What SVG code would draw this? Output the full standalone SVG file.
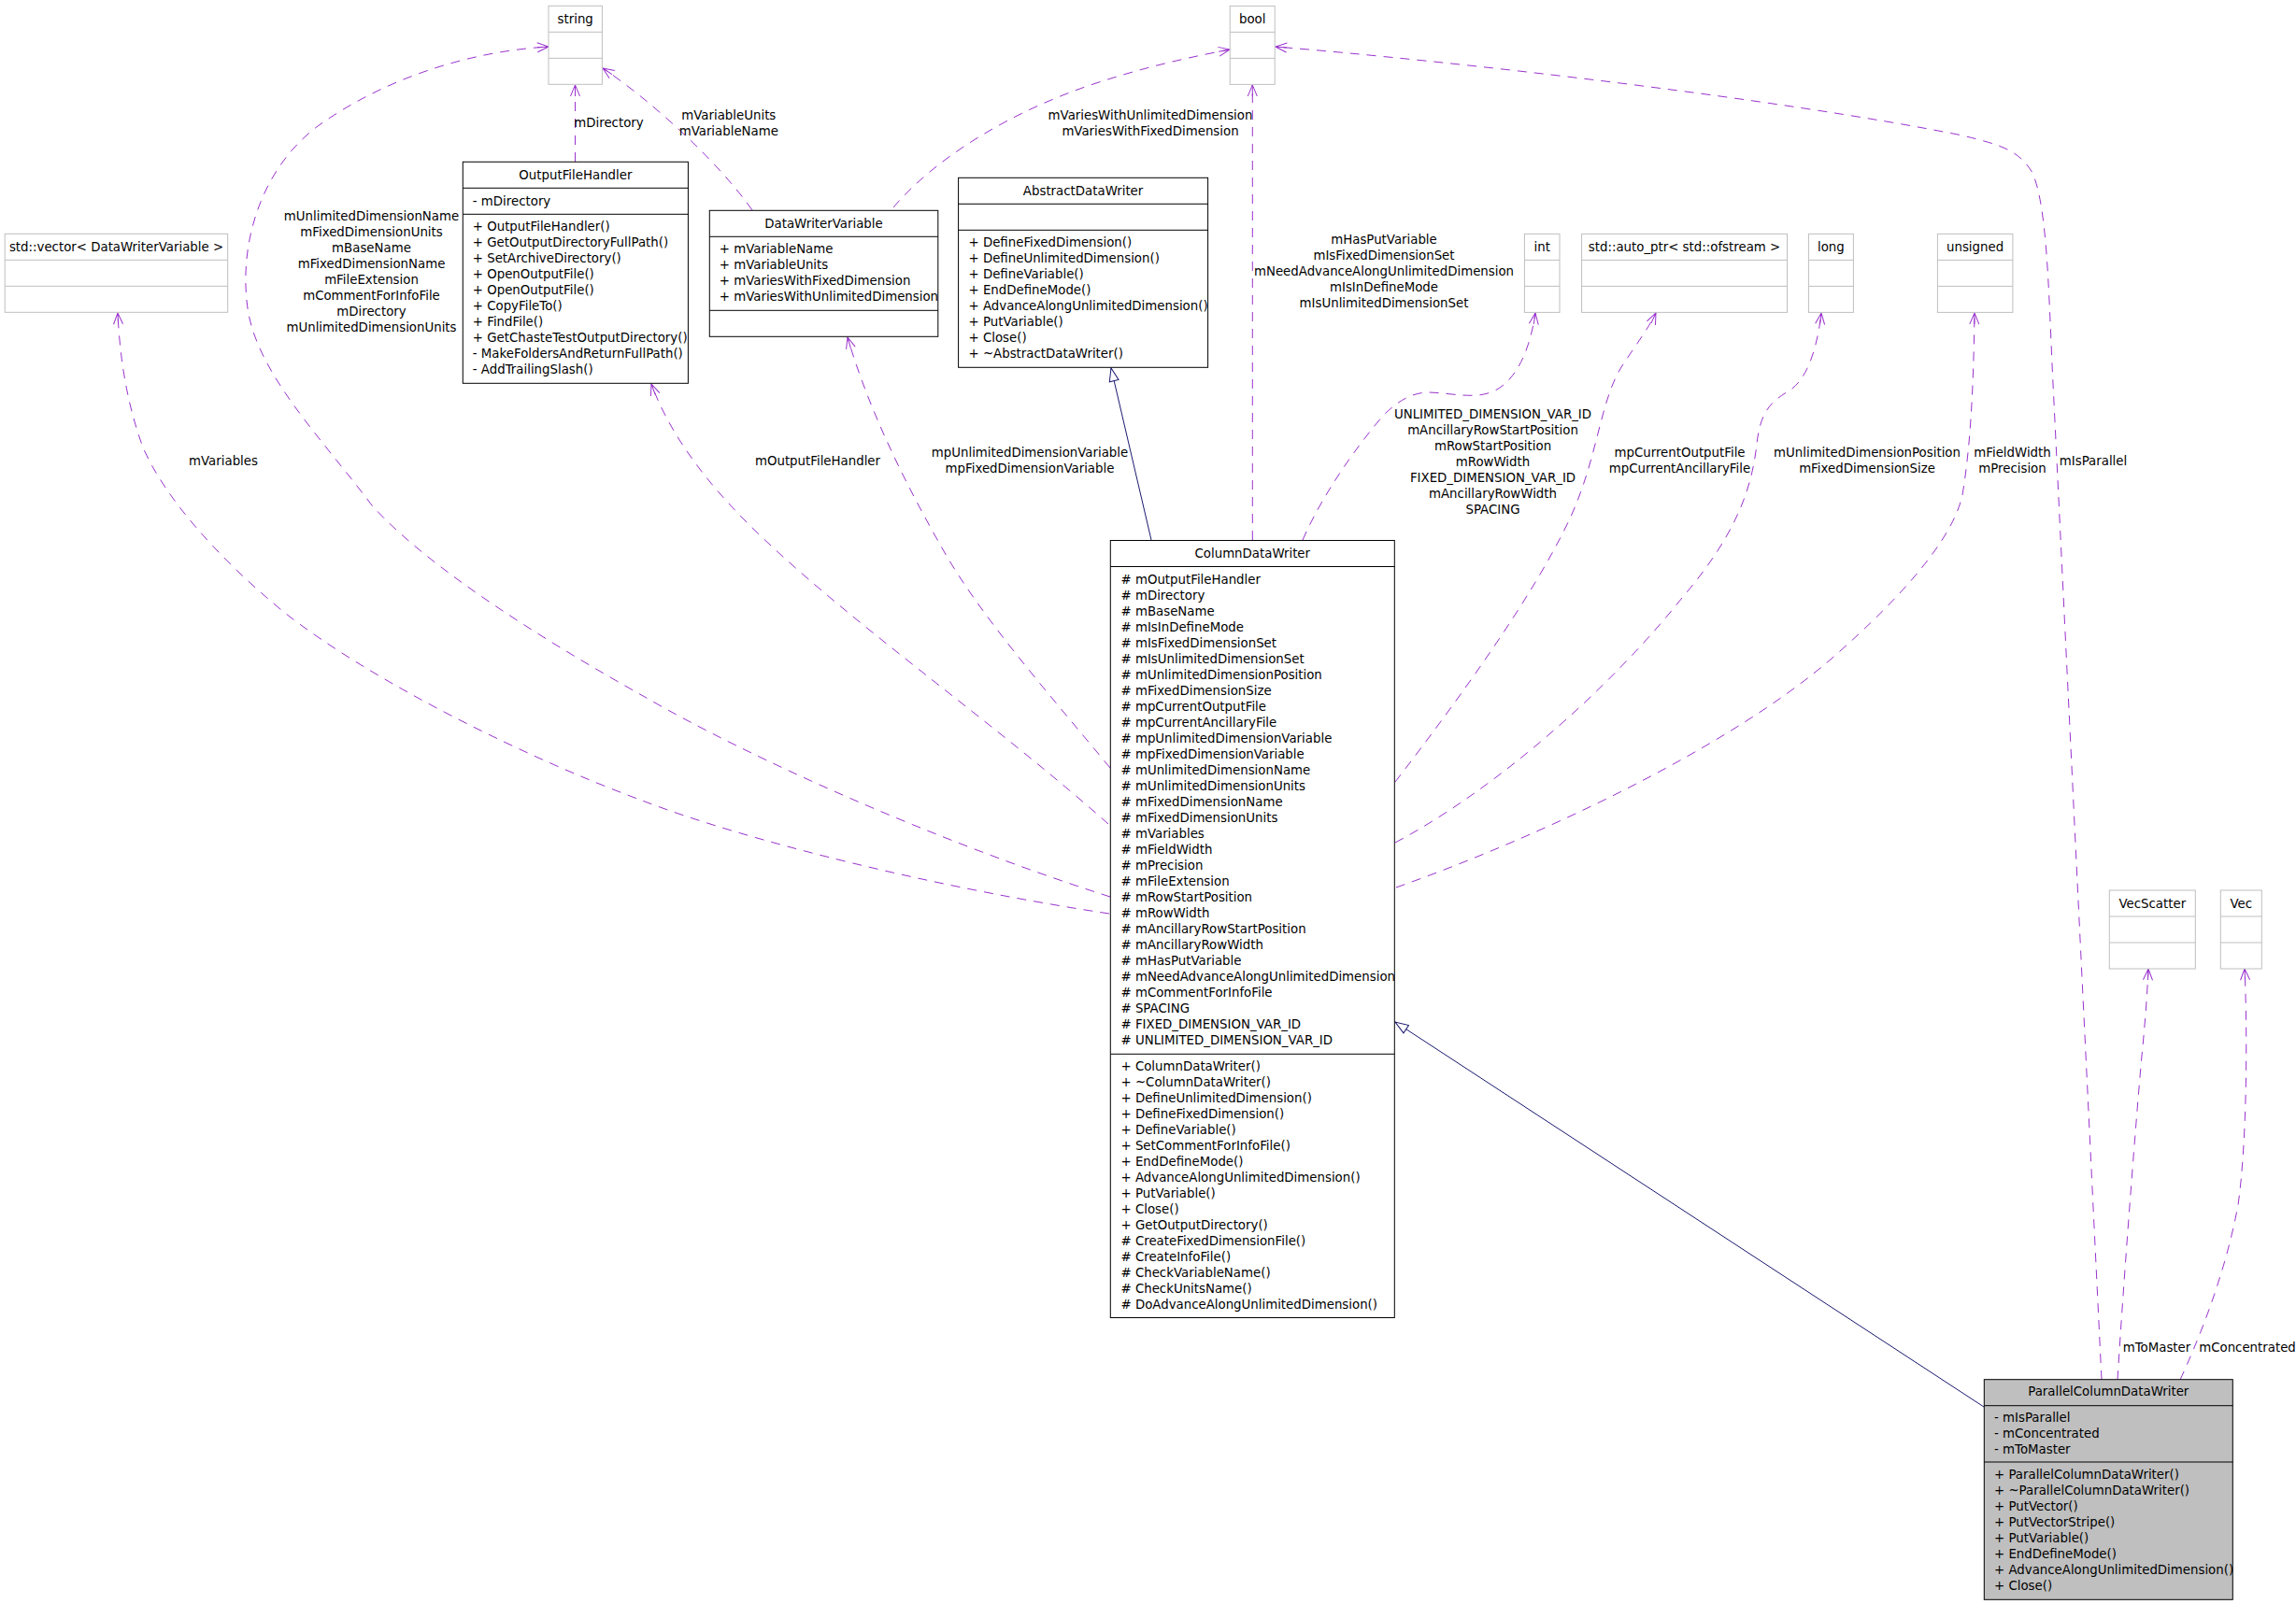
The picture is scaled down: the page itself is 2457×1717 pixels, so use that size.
<svg xmlns="http://www.w3.org/2000/svg" width="2457" height="1717" viewBox="0 0 2457 1717">
<style>
.t{font-family:"DejaVu Sans","Liberation Sans",sans-serif;font-size:13.33px;fill:#000}
.c{text-anchor:middle}
.box{fill:#fff;stroke:#000;stroke-width:1}
.boxg{fill:#bfbfbf;stroke:#000;stroke-width:1}
.ext{fill:#fff;stroke:#bfbfbf;stroke-width:1}
.sep{stroke:#000;stroke-width:1}
.sepx{stroke:#bfbfbf;stroke-width:1}
.use{fill:none;stroke:#9a32cd;stroke-width:1;stroke-dasharray:10,8;marker-end:url(#vee)}
.inh{fill:none;stroke:#191970;stroke-width:1;marker-end:url(#tri)}
</style>
<defs>
<marker id="vee" markerUnits="userSpaceOnUse" markerWidth="14" markerHeight="12" refX="12" refY="5" orient="auto" overflow="visible">
<path d="M0,0 L12,5 L0,10 M0,5 L12,5" fill="none" stroke="#9a32cd" stroke-width="1"/>
</marker>
<marker id="tri" markerUnits="userSpaceOnUse" markerWidth="16" markerHeight="12" refX="14" refY="5" orient="auto" overflow="visible">
<path d="M0,0 L14,5 L0,10 Z" fill="#fff" stroke="#191970" stroke-width="1"/>
</marker>
</defs>
<rect width="2457" height="1717" fill="#fff"/>

<g id="connectors">
<path class="use" d="M1188,960 C1000,900 800,810 690,746 C590,690 460,610 398,541 C345,470 275,400 265,330 C255,260 280,180 340,135 C410,85 500,55 587,50"/>
<path class="use" d="M1187,978 C1000,950 800,900 690,858 C560,810 400,730 306,657 C230,595 175,530 153,479 C135,430 128,380 126,335"/>
<path class="use" d="M1186,882 C1060,770 900,660 800,560 C750,510 715,460 697,411"/>
<path class="use" d="M1188,822 C1120,740 1050,660 1010,590 C970,520 930,440 907,361"/>
<path class="inh" d="M1232,578 L1189,394"/>
<path class="use" d="M1340.3,578 L1340.3,91"/>
<path class="use" d="M805,225 C770,175 700,110 645,73"/>
<path class="use" d="M956,222 C1000,170 1080,120 1170,90 C1230,70 1280,60 1316,53"/>
<path class="use" d="M615.5,173 L615.5,91"/>
<path class="use" d="M1394,578 C1415,530 1450,480 1480,445 C1500,425 1515,420 1530,420 C1555,421 1580,428 1600,418 C1625,405 1638,370 1643,335"/>
<path class="use" d="M1493,837 C1560,750 1640,640 1680,555 C1710,490 1712,430 1735,393 C1750,370 1765,350 1772,335"/>
<path class="use" d="M1493,902 C1600,845 1720,740 1800,640 C1860,570 1875,520 1880,475 C1884,440 1895,430 1915,418 C1935,405 1945,370 1949,335"/>
<path class="use" d="M1494,950 C1650,895 1850,800 1960,705 C2040,635 2090,575 2100,530 C2110,470 2112,400 2113,335"/>
<path class="use" d="M2249,1477 L2196,390 C2192,300 2190,220 2175,185 C2160,160 2140,155 2100,145 C1900,105 1550,65 1365,50"/>
<path class="use" d="M2266,1477 C2272,1380 2284,1220 2292,1130 C2296,1090 2298,1060 2299,1037"/>
<path class="use" d="M2333,1477 C2350,1440 2380,1370 2395,1290 C2405,1220 2405,1100 2402,1037"/>
<path class="inh" d="M2123,1506 L1493,1094"/>

<text class="t c" x="651.5" y="135.8">mDirectory</text>
<text class="t c" x="779.8" y="127.5">mVariableUnits</text>
<text class="t c" x="779.8" y="144.5">mVariableName</text>
<text class="t c" x="1231" y="127.5">mVariesWithUnlimitedDimension</text>
<text class="t c" x="1231" y="144.5">mVariesWithFixedDimension</text>
<text class="t c" x="397.5" y="236.1">mUnlimitedDimensionName</text>
<text class="t c" x="397.5" y="253.1">mFixedDimensionUnits</text>
<text class="t c" x="397.5" y="270.1">mBaseName</text>
<text class="t c" x="397.5" y="287.1">mFixedDimensionName</text>
<text class="t c" x="397.5" y="304.1">mFileExtension</text>
<text class="t c" x="397.5" y="321.1">mCommentForInfoFile</text>
<text class="t c" x="397.5" y="338.1">mDirectory</text>
<text class="t c" x="397.5" y="355.1">mUnlimitedDimensionUnits</text>
<text class="t c" x="239" y="498.1">mVariables</text>
<text class="t c" x="875" y="498.1">mOutputFileHandler</text>
<text class="t c" x="1102" y="489.1">mpUnlimitedDimensionVariable</text>
<text class="t c" x="1102" y="506.1">mpFixedDimensionVariable</text>
<text class="t c" x="1481" y="261.2">mHasPutVariable</text>
<text class="t c" x="1481" y="278.2">mIsFixedDimensionSet</text>
<text class="t c" x="1481" y="295.2">mNeedAdvanceAlongUnlimitedDimension</text>
<text class="t c" x="1481" y="312.2">mIsInDefineMode</text>
<text class="t c" x="1481" y="329.2">mIsUnlimitedDimensionSet</text>
<text class="t c" x="1597.5" y="447.5">UNLIMITED_DIMENSION_VAR_ID</text>
<text class="t c" x="1597.5" y="464.5">mAncillaryRowStartPosition</text>
<text class="t c" x="1597.5" y="481.5">mRowStartPosition</text>
<text class="t c" x="1597.5" y="498.5">mRowWidth</text>
<text class="t c" x="1597.5" y="515.5">FIXED_DIMENSION_VAR_ID</text>
<text class="t c" x="1597.5" y="532.5">mAncillaryRowWidth</text>
<text class="t c" x="1597.5" y="549.5">SPACING</text>
<text class="t c" x="1797.5" y="489.3">mpCurrentOutputFile</text>
<text class="t c" x="1797.5" y="506.3">mpCurrentAncillaryFile</text>
<text class="t c" x="1998" y="489.3">mUnlimitedDimensionPosition</text>
<text class="t c" x="1998" y="506.3">mFixedDimensionSize</text>
<text class="t c" x="2153.5" y="489.3">mFieldWidth</text>
<text class="t c" x="2153.5" y="506.3">mPrecision</text>
<text class="t c" x="2240" y="498.1">mIsParallel</text>
<text class="t c" x="2308" y="1446.5">mToMaster</text>
<text class="t c" x="2405" y="1446.5">mConcentrated</text>
</g>

<g id="node-string">
<rect class="ext" x="587" y="6.3" width="57.4" height="84"/>
<line class="sepx" x1="587" y1="34.3" x2="644.4" y2="34.3"/>
<line class="sepx" x1="587" y1="62.3" x2="644.4" y2="62.3"/>
<text class="t c" x="615.7" y="25.1">string</text>
</g>

<g id="node-bool">
<rect class="ext" x="1316.2" y="6.4" width="48" height="84"/>
<line class="sepx" x1="1316.2" y1="34.4" x2="1364.2" y2="34.4"/>
<line class="sepx" x1="1316.2" y1="62.4" x2="1364.2" y2="62.4"/>
<text class="t c" x="1340.2" y="25.2">bool</text>
</g>

<g id="node-vector">
<rect class="ext" x="5.2" y="250.3" width="238.5" height="84"/>
<line class="sepx" x1="5.2" y1="278.3" x2="243.7" y2="278.3"/>
<line class="sepx" x1="5.2" y1="306.3" x2="243.7" y2="306.3"/>
<text class="t c" x="124.5" y="269.1">std::vector&lt; DataWriterVariable &gt;</text>
</g>

<g id="node-int">
<rect class="ext" x="1631.4" y="250.4" width="37.6" height="84"/>
<line class="sepx" x1="1631.4" y1="278.4" x2="1669" y2="278.4"/>
<line class="sepx" x1="1631.4" y1="306.4" x2="1669" y2="306.4"/>
<text class="t c" x="1650.2" y="269.2">int</text>
</g>

<g id="node-auto_ptr">
<rect class="ext" x="1692.6" y="250.4" width="219.9" height="84"/>
<line class="sepx" x1="1692.6" y1="278.4" x2="1912.5" y2="278.4"/>
<line class="sepx" x1="1692.6" y1="306.4" x2="1912.5" y2="306.4"/>
<text class="t c" x="1802.5" y="269.2">std::auto_ptr&lt; std::ofstream &gt;</text>
</g>

<g id="node-long">
<rect class="ext" x="1935.4" y="250.4" width="48" height="84"/>
<line class="sepx" x1="1935.4" y1="278.4" x2="1983.4" y2="278.4"/>
<line class="sepx" x1="1935.4" y1="306.4" x2="1983.4" y2="306.4"/>
<text class="t c" x="1959.4" y="269.2">long</text>
</g>

<g id="node-unsigned">
<rect class="ext" x="2073.4" y="250.4" width="80.5" height="84"/>
<line class="sepx" x1="2073.4" y1="278.4" x2="2153.9" y2="278.4"/>
<line class="sepx" x1="2073.4" y1="306.4" x2="2153.9" y2="306.4"/>
<text class="t c" x="2113.6" y="269.2">unsigned</text>
</g>

<g id="node-VecScatter">
<rect class="ext" x="2257.3" y="953" width="92" height="84"/>
<line class="sepx" x1="2257.3" y1="981" x2="2349.3" y2="981"/>
<line class="sepx" x1="2257.3" y1="1009" x2="2349.3" y2="1009"/>
<text class="t c" x="2303.3" y="971.8">VecScatter</text>
</g>

<g id="node-Vec">
<rect class="ext" x="2376.3" y="953" width="44" height="84"/>
<line class="sepx" x1="2376.3" y1="981" x2="2420.3" y2="981"/>
<line class="sepx" x1="2376.3" y1="1009" x2="2420.3" y2="1009"/>
<text class="t c" x="2398.3" y="971.8">Vec</text>
</g>

<g id="node-OutputFileHandler">
<rect class="box" x="495.3" y="173.3" width="241.1" height="237"/>
<line class="sep" x1="495.3" y1="201.3" x2="736.4" y2="201.3"/>
<line class="sep" x1="495.3" y1="229.3" x2="736.4" y2="229.3"/>
<text class="t c" x="615.9" y="192.1">OutputFileHandler</text>
<text class="t" x="505.8" y="220.1">- mDirectory</text>
<text class="t" x="505.8" y="247.1">+ OutputFileHandler()</text>
<text class="t" x="505.8" y="264.1">+ GetOutputDirectoryFullPath()</text>
<text class="t" x="505.8" y="281.1">+ SetArchiveDirectory()</text>
<text class="t" x="505.8" y="298.1">+ OpenOutputFile()</text>
<text class="t" x="505.8" y="315.1">+ OpenOutputFile()</text>
<text class="t" x="505.8" y="332.1">+ CopyFileTo()</text>
<text class="t" x="505.8" y="349.1">+ FindFile()</text>
<text class="t" x="505.8" y="366.1">+ GetChasteTestOutputDirectory()</text>
<text class="t" x="505.8" y="383.1">- MakeFoldersAndReturnFullPath()</text>
<text class="t" x="505.8" y="400.1">- AddTrailingSlash()</text>
</g>

<g id="node-DataWriterVariable">
<rect class="box" x="759.3" y="225.3" width="244.5" height="135"/>
<line class="sep" x1="759.3" y1="253.3" x2="1003.8" y2="253.3"/>
<line class="sep" x1="759.3" y1="332.3" x2="1003.8" y2="332.3"/>
<text class="t c" x="881.5" y="244.1">DataWriterVariable</text>
<text class="t" x="769.8" y="271.1">+ mVariableName</text>
<text class="t" x="769.8" y="288.1">+ mVariableUnits</text>
<text class="t" x="769.8" y="305.1">+ mVariesWithFixedDimension</text>
<text class="t" x="769.8" y="322.1">+ mVariesWithUnlimitedDimension</text>
</g>

<g id="node-AbstractDataWriter">
<rect class="box" x="1025.6" y="190.3" width="267" height="203"/>
<line class="sep" x1="1025.6" y1="218.3" x2="1292.6" y2="218.3"/>
<line class="sep" x1="1025.6" y1="246.3" x2="1292.6" y2="246.3"/>
<text class="t c" x="1159.1" y="209.1">AbstractDataWriter</text>
<text class="t" x="1036.5" y="264.1">+ DefineFixedDimension()</text>
<text class="t" x="1036.5" y="281.1">+ DefineUnlimitedDimension()</text>
<text class="t" x="1036.5" y="298.1">+ DefineVariable()</text>
<text class="t" x="1036.5" y="315.1">+ EndDefineMode()</text>
<text class="t" x="1036.5" y="332.1">+ AdvanceAlongUnlimitedDimension()</text>
<text class="t" x="1036.5" y="349.1">+ PutVariable()</text>
<text class="t" x="1036.5" y="366.1">+ Close()</text>
<text class="t" x="1036.5" y="383.1">+ ~AbstractDataWriter()</text>
</g>

<g id="node-ColumnDataWriter">
<rect class="box" x="1188.3" y="578.5" width="304" height="832"/>
<line class="sep" x1="1188.3" y1="606.5" x2="1492.3" y2="606.5"/>
<line class="sep" x1="1188.3" y1="1128.3" x2="1492.3" y2="1128.3"/>
<text class="t c" x="1340.3" y="597.3">ColumnDataWriter</text>
<text class="t" x="1199.5" y="624.7"># mOutputFileHandler</text>
<text class="t" x="1199.5" y="641.7"># mDirectory</text>
<text class="t" x="1199.5" y="658.7"># mBaseName</text>
<text class="t" x="1199.5" y="675.7"># mIsInDefineMode</text>
<text class="t" x="1199.5" y="692.7"># mIsFixedDimensionSet</text>
<text class="t" x="1199.5" y="709.7"># mIsUnlimitedDimensionSet</text>
<text class="t" x="1199.5" y="726.7"># mUnlimitedDimensionPosition</text>
<text class="t" x="1199.5" y="743.7"># mFixedDimensionSize</text>
<text class="t" x="1199.5" y="760.7"># mpCurrentOutputFile</text>
<text class="t" x="1199.5" y="777.7"># mpCurrentAncillaryFile</text>
<text class="t" x="1199.5" y="794.7"># mpUnlimitedDimensionVariable</text>
<text class="t" x="1199.5" y="811.7"># mpFixedDimensionVariable</text>
<text class="t" x="1199.5" y="828.7"># mUnlimitedDimensionName</text>
<text class="t" x="1199.5" y="845.7"># mUnlimitedDimensionUnits</text>
<text class="t" x="1199.5" y="862.7"># mFixedDimensionName</text>
<text class="t" x="1199.5" y="879.7"># mFixedDimensionUnits</text>
<text class="t" x="1199.5" y="896.7"># mVariables</text>
<text class="t" x="1199.5" y="913.7"># mFieldWidth</text>
<text class="t" x="1199.5" y="930.7"># mPrecision</text>
<text class="t" x="1199.5" y="947.7"># mFileExtension</text>
<text class="t" x="1199.5" y="964.7"># mRowStartPosition</text>
<text class="t" x="1199.5" y="981.7"># mRowWidth</text>
<text class="t" x="1199.5" y="998.7"># mAncillaryRowStartPosition</text>
<text class="t" x="1199.5" y="1015.7"># mAncillaryRowWidth</text>
<text class="t" x="1199.5" y="1032.7"># mHasPutVariable</text>
<text class="t" x="1199.5" y="1049.7"># mNeedAdvanceAlongUnlimitedDimension</text>
<text class="t" x="1199.5" y="1066.7"># mCommentForInfoFile</text>
<text class="t" x="1199.5" y="1083.7"># SPACING</text>
<text class="t" x="1199.5" y="1100.7"># FIXED_DIMENSION_VAR_ID</text>
<text class="t" x="1199.5" y="1117.7"># UNLIMITED_DIMENSION_VAR_ID</text>
<text class="t" x="1199.5" y="1146.1">+ ColumnDataWriter()</text>
<text class="t" x="1199.5" y="1163.1">+ ~ColumnDataWriter()</text>
<text class="t" x="1199.5" y="1180.1">+ DefineUnlimitedDimension()</text>
<text class="t" x="1199.5" y="1197.1">+ DefineFixedDimension()</text>
<text class="t" x="1199.5" y="1214.1">+ DefineVariable()</text>
<text class="t" x="1199.5" y="1231.1">+ SetCommentForInfoFile()</text>
<text class="t" x="1199.5" y="1248.1">+ EndDefineMode()</text>
<text class="t" x="1199.5" y="1265.1">+ AdvanceAlongUnlimitedDimension()</text>
<text class="t" x="1199.5" y="1282.1">+ PutVariable()</text>
<text class="t" x="1199.5" y="1299.1">+ Close()</text>
<text class="t" x="1199.5" y="1316.1">+ GetOutputDirectory()</text>
<text class="t" x="1199.5" y="1333.1"># CreateFixedDimensionFile()</text>
<text class="t" x="1199.5" y="1350.1"># CreateInfoFile()</text>
<text class="t" x="1199.5" y="1367.1"># CheckVariableName()</text>
<text class="t" x="1199.5" y="1384.1"># CheckUnitsName()</text>
<text class="t" x="1199.5" y="1401.1"># DoAdvanceAlongUnlimitedDimension()</text>
</g>

<g id="node-ParallelColumnDataWriter">
<rect class="boxg" x="2123.3" y="1476.7" width="266" height="235.6"/>
<line class="sep" x1="2123.3" y1="1504.7" x2="2389.3" y2="1504.7"/>
<line class="sep" x1="2123.3" y1="1565" x2="2389.3" y2="1565"/>
<text class="t c" x="2256.3" y="1494.3">ParallelColumnDataWriter</text>
<text class="t" x="2134" y="1521.5">- mIsParallel</text>
<text class="t" x="2134" y="1538.5">- mConcentrated</text>
<text class="t" x="2134" y="1555.5">- mToMaster</text>
<text class="t" x="2134" y="1582.8">+ ParallelColumnDataWriter()</text>
<text class="t" x="2134" y="1599.8">+ ~ParallelColumnDataWriter()</text>
<text class="t" x="2134" y="1616.8">+ PutVector()</text>
<text class="t" x="2134" y="1633.8">+ PutVectorStripe()</text>
<text class="t" x="2134" y="1650.8">+ PutVariable()</text>
<text class="t" x="2134" y="1667.8">+ EndDefineMode()</text>
<text class="t" x="2134" y="1684.8">+ AdvanceAlongUnlimitedDimension()</text>
<text class="t" x="2134" y="1701.8">+ Close()</text>
</g>
</svg>
